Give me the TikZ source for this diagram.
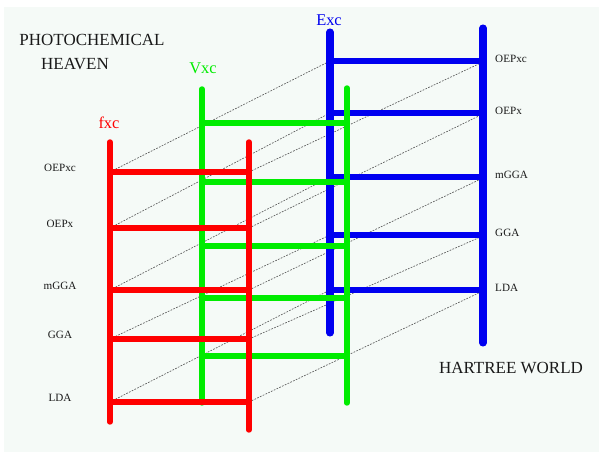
\documentclass[tikz,border=0pt]{standalone}
\usepackage{fontspec}
\setmainfont{Liberation Serif}
\usetikzlibrary{positioning}
\definecolor{heavenbg}{RGB}{245,250,247}
\definecolor{fxcred}{RGB}{255,0,0}
\definecolor{vxcgreen}{RGB}{0,236,0}
\definecolor{excblue}{RGB}{0,0,240}
\definecolor{labelgray}{RGB}{25,25,25}

\begin{document}
\begin{tikzpicture}[x=0.03cm, y=-0.03cm,
    rail/.style={line width=4.6pt, line cap=round},
    rung/.style={line width=5pt},
    guide/.style={line width=0.55pt, black!65, dash pattern=on 1.5pt off 1.1pt},
    rungtext/.style={text=labelgray, font=\fontsize{9.5}{11}\selectfont, inner sep=0pt},
    bigtext/.style={text=labelgray, font=\fontsize{14.5}{17}\selectfont, inner sep=0pt},
    laddername/.style={font=\fontsize{14}{16}\selectfont, inner sep=0pt}]
    \useasboundingbox (0,0) rectangle (603,457);

    % Background
    \fill[heavenbg] (4,7) rectangle (599,452);

    % Rung ends
    \foreach \lab/\ry/\gy/\by [count=\i] in {OEPxc/172/123/61, OEPx/228/182/113, mGGA/290/246/177, GGA/339/298/235, LDA/402/356/290}{
        \coordinate (fl\i) at (110,\ry);
        \coordinate (fr\i) at (249,\ry);
        \coordinate (vl\i) at (202,\gy);
        \coordinate (vr\i) at (350,\gy);
        \coordinate (el\i) at (330,\by);
        \coordinate (er\i) at (485,\by);
        \node[rungtext] (flab\i) at (60,\ry-4) {\lab};
        \node[rungtext, anchor=west] (elab\i) at (495,\by-2) {\lab};
    }

    % Dashed guides
    \foreach \i in {1,...,5}{
        \draw[guide] (fl\i) -- (el\i);
        \draw[guide] (fr\i) -- (er\i);
    }

    % Exc ladder
    \draw[rail, excblue, line width=6pt] (330,32) -- (330,333);
    \draw[rail, excblue, line width=6pt] (483,28) -- (483,343);
    \foreach \i in {1,...,5}
        \draw[rung, excblue, line width=5.4pt] (el\i) -- (er\i);
    \node[laddername, text=excblue] (exc) at (329,20) {Exc};

    % Vxc ladder
    \draw[rail, vxcgreen] (202,89) -- (202,403);
    \draw[rail, vxcgreen] (347,88) -- (347,403);
    \foreach \i in {1,...,5}
        \draw[rung, vxcgreen] (vl\i) -- (vr\i);
    \node[laddername, text=vxcgreen] (vxc) at (203,68) {Vxc};

    % fxc ladder
    \draw[rail, fxcred] (110,142) -- (110,422);
    \draw[rail, fxcred] (249,142) -- (249,430);
    \foreach \i in {1,...,5}
        \draw[rung, fxcred] (fl\i) -- (fr\i);
    \node[laddername, text=fxcred] (fxc) at (109,123) {fxc};

    % Titles
    \node[bigtext] (heaven1) at (92,40) {PHOTOCHEMICAL};
    \node[bigtext] (heaven2) at (75,64) {HEAVEN};
    \node[bigtext] (hartree) at (511,368) {HARTREE WORLD};
\end{tikzpicture}
\end{document}
